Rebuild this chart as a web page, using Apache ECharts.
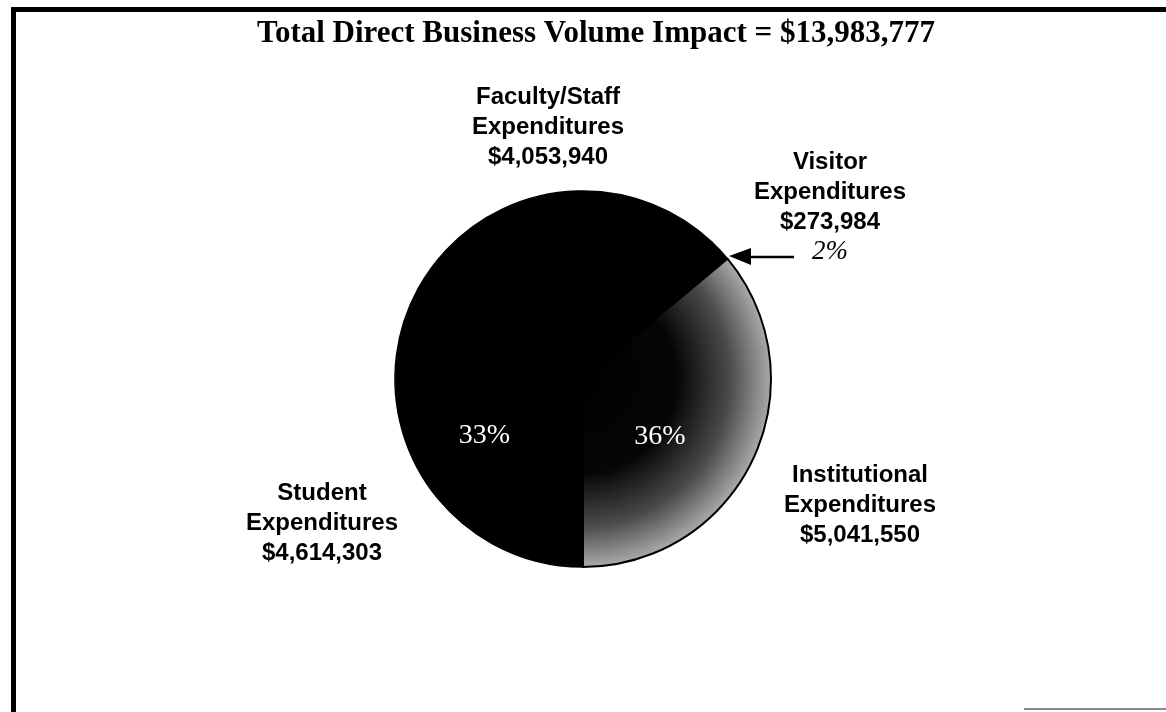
<!DOCTYPE html>
<html>
<head>
<meta charset="utf-8">
<title>Total Direct Business Volume Impact</title>
<script src="https://cdn.jsdelivr.net/npm/echarts@6/dist/echarts.min.js"></script>
<style>
  html, body { margin: 0; padding: 0; background: #fff; }
  #chart { width: 1166px; height: 712px; }
</style>
</head>
<body>
<div id="chart"></div>
<script>
// Expenditure categories and their dollar amounts (slice order, counter-clockwise from 6 o'clock)
const categories = ['Institutional', 'Visitor', 'Faculty/Staff', 'Student'];
const values = [5041550, 273984, 4053940, 4614303];
// Categories whose percentage is printed inside the slice
const insidePercent = ['Institutional', 'Student'];

// Label block centres (px) for each category
const labelAnchor = {
  'Institutional': [860, 505],
  'Visitor': [830, 207],
  'Faculty/Staff': [548, 127],
  'Student': [322, 523]
};

const PIE_CENTER = [583, 379];
const PIE_RADIUS = 188;

const total = values.reduce((a, b) => a + b, 0);
const money = v => '$' + v.toLocaleString('en-US');

const institutionalFill = {
  type: 'radial', global: true,
  x: PIE_CENTER[0], y: PIE_CENTER[1], r: PIE_RADIUS,
  colorStops: [
    { offset: 0, color: '#000' },
    { offset: 0.5, color: '#060606' },
    { offset: 0.78, color: '#4a4a4a' },
    { offset: 1, color: '#a9a9a9' }
  ]
};

const sliceData = categories.map((c, i) => ({
  name: c,
  value: values[i],
  itemStyle: c === 'Institutional'
    ? { color: institutionalFill, borderColor: '#000', borderWidth: 2 }
    : { color: '#000', borderColor: '#000', borderWidth: 1.5 },
  label: { show: insidePercent.indexOf(c) >= 0 }
}));

const nameData = categories.map((c, i) => ({ name: c, value: values[i] }));

const chart = echarts.init(document.getElementById('chart'), null, { renderer: 'canvas' });

chart.setOption({
  animation: false,
  backgroundColor: '#fff',
  graphic: [
    // frame
    { type: 'rect', shape: { x: 11, y: 7, width: 5, height: 710 }, style: { fill: '#000' } },
    { type: 'rect', shape: { x: 11, y: 7, width: 1160, height: 5 }, style: { fill: '#000' } },
    { type: 'rect', shape: { x: 1024, y: 708, width: 142, height: 2 }, style: { fill: '#8a8a8a' } },
    // heading
    {
      type: 'text', x: 596, y: 34,
      style: {
        text: 'Total Direct Business Volume Impact = ' + money(total),
        fontFamily: 'Liberation Serif', fontWeight: 'bold', fontSize: 31,
        fill: '#000', align: 'center', verticalAlign: 'middle'
      }
    },
    // pointer to the small visitor slice
    { type: 'line', shape: { x1: 794, y1: 257, x2: 745, y2: 257 }, style: { stroke: '#000', lineWidth: 2.5 } },
    { type: 'polygon', shape: { points: [[729, 256], [751, 248], [751, 265]] }, style: { fill: '#000' } }
  ],
  series: [
    {
      type: 'pie',
      center: PIE_CENTER,
      radius: PIE_RADIUS,
      startAngle: 270,
      clockwise: false,
      avoidLabelOverlap: false,
      silent: true,
      data: sliceData,
      label: {
        position: 'inside',
        formatter: p => Math.round(p.percent) + '%',
        fontFamily: 'Liberation Serif',
        fontSize: 28,
        color: '#fff'
      },
      labelLayout: p => {
        const off = p.dataIndex === 0 ? [-11, 16] : [-15, 7];
        return { dx: off[0], dy: off[1] };
      },
      labelLine: { show: false }
    },
    {
      type: 'pie',
      center: PIE_CENTER,
      radius: PIE_RADIUS,
      startAngle: 270,
      clockwise: false,
      avoidLabelOverlap: false,
      silent: true,
      data: nameData,
      itemStyle: { color: 'rgba(0,0,0,0)' },
      label: {
        show: true,
        position: 'outside',
        formatter: p => {
          let s = '{n|' + p.name + '}\n{n|Expenditures}\n{n|' + money(p.value) + '}';
          if (p.name === 'Visitor') s += '\n{p|' + Math.round(p.percent) + '%}';
          return s;
        },
        rich: {
          n: { fontFamily: 'Liberation Sans', fontWeight: 'bold', fontSize: 24, lineHeight: 30, color: '#000', align: 'center' },
          p: { fontFamily: 'Liberation Serif', fontStyle: 'italic', fontSize: 27, lineHeight: 30, color: '#000', align: 'center' }
        }
      },
      labelLine: { show: false },
      labelLayout: p => {
        const a = labelAnchor[categories[p.dataIndex]];
        return { x: a[0], y: a[1], align: 'center', verticalAlign: 'middle' };
      }
    }
  ]
});
</script>
</body>
</html>
